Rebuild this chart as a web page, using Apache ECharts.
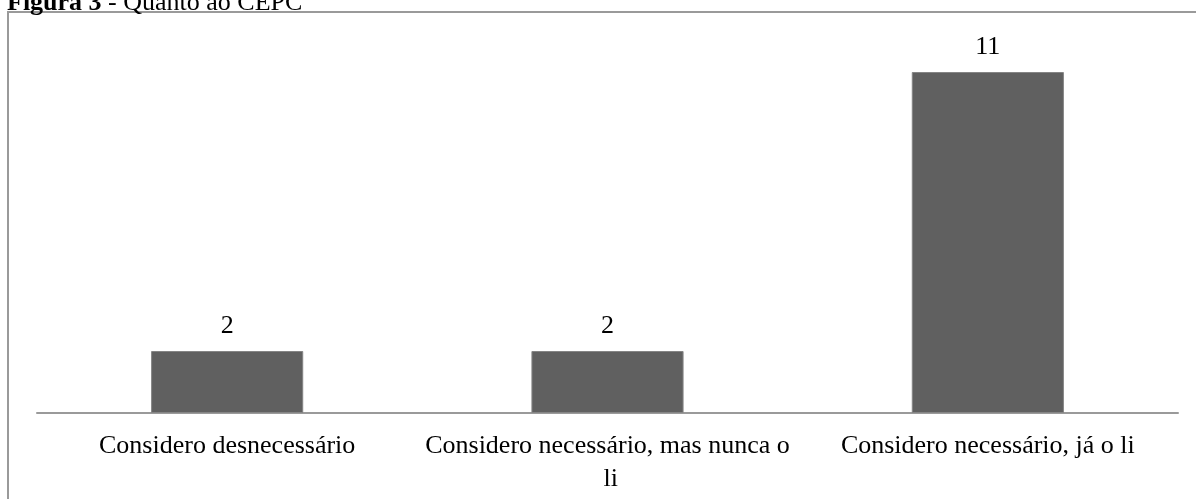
<!DOCTYPE html>
<html>
<head>
<meta charset="utf-8">
<script src="https://cdn.jsdelivr.net/npm/echarts@6/dist/echarts.min.js"></script>
<style>
  html, body { margin: 0; padding: 0; background: #ffffff; }
  #chart { width: 1196px; height: 499px; }
</style>
</head>
<body>
<div id="chart"></div>
<script>
// Respostas sobre o CEPC
const categories = [
  'Considero desnecessário',
  'Considero necessário, mas nunca o li',
  'Considero necessário, já o li'
];
const counts = [2, 2, 11];

const serif = '"Liberation Serif", "Times New Roman", serif';

const chart = echarts.init(document.getElementById('chart'));
chart.setOption({
  animation: false,
  backgroundColor: '#ffffff',
  title: {
    text: '{b|Figura 3} - Quanto ao CEPC',
    left: 2,
    top: -15,
    textStyle: {
      fontFamily: serif,
      fontSize: 26,
      fontWeight: 'normal',
      color: '#000000',
      rich: {
        b: { fontFamily: serif, fontSize: 26, fontWeight: 'bold', color: '#000000' }
      }
    }
  },
  graphic: [{
    type: 'rect',
    shape: { x: 8, y: 12, width: 1300, height: 600 },
    style: { fill: 'none', stroke: '#9a9a9a', lineWidth: 2 },
    z: 0
  }],
  grid: { left: 37, right: 18, top: 41, bottom: 86 },
  xAxis: {
    type: 'category',
    data: categories,
    axisLine: { lineStyle: { color: '#9a9a9a', width: 2 } },
    axisTick: { show: false },
    axisLabel: {
      interval: 0,
      margin: 17,
      width: 380,
      overflow: 'break',
      fontFamily: serif,
      fontSize: 26,
      lineHeight: 33,
      color: '#000000'
    }
  },
  yAxis: {
    type: 'value',
    min: 0,
    max: 12,
    show: false
  },
  series: [{
    type: 'bar',
    data: counts,
    barWidth: '40%',
    itemStyle: { color: '#606060', borderColor: '#858585', borderWidth: 1 },
    label: {
      show: true,
      position: 'top',
      distance: 12,
      fontFamily: serif,
      fontSize: 26,
      color: '#000000'
    }
  }]
});
</script>
</body>
</html>
